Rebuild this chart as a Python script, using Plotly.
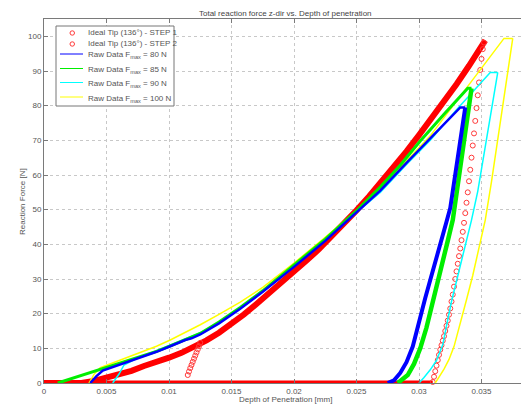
import plotly.graph_objects as go

# ---------------- data ----------------
step1_depth = [0.0000, 0.0030, 0.0040, 0.0050, 0.0060, 0.0070, 0.0080, 0.0090, 0.0100, 0.0110,
               0.0120, 0.0130, 0.0140, 0.0150, 0.0160, 0.0170, 0.0180, 0.0190, 0.0200, 0.0210,
               0.0220, 0.0230, 0.0240, 0.0250, 0.0260, 0.0270, 0.0280, 0.0290, 0.0300, 0.0310,
               0.0320, 0.0330, 0.0340, 0.0350, 0.0353]
step1_force = [0.0, 0.0, 0.6, 1.5, 2.4, 3.5, 4.9, 6.0, 7.3, 8.7,
               10.3, 12.3, 14.5, 17.0, 19.8, 22.8, 25.8, 28.8, 32.0, 35.3,
               38.6, 42.2, 46.0, 49.8, 53.8, 58.0, 62.3, 66.8, 71.5, 76.3,
               81.2, 86.2, 91.5, 97.0, 98.8]

step1_base_depth = [0.0000, 0.0311]
step1_base_force = [0.0, 0.0]

step2_depth = [0.0352, 0.0351, 0.0350, 0.0349, 0.0348, 0.0347, 0.0346, 0.0345, 0.0344, 0.0343,
               0.0342, 0.0341, 0.0340, 0.0339, 0.0338, 0.0337, 0.0336, 0.0335, 0.0334, 0.0333,
               0.0332, 0.0331, 0.0330, 0.0329, 0.0328, 0.0327, 0.0326, 0.0325, 0.0324, 0.0323,
               0.0322, 0.0321, 0.0320, 0.0319, 0.0318, 0.0317, 0.0316, 0.0315, 0.0314, 0.0313,
               0.0312, 0.0311]
step2_force = [98.2, 96.3, 93.5, 90.3, 86.7, 83.0, 79.3, 75.6, 72.0, 68.5,
               65.0, 61.5, 58.2, 55.0, 52.0, 49.0, 46.2, 43.6, 41.2, 38.8,
               36.6, 34.4, 32.2, 30.0, 27.8, 25.5, 23.5, 21.5, 19.7, 18.0,
               16.5, 15.0, 13.5, 12.2, 10.9, 9.6, 8.1, 6.6, 5.0, 3.4,
               1.8, 0.3]

step2_reload_depth = [0.0115, 0.0116, 0.0117, 0.0118, 0.0119, 0.0120, 0.0121, 0.0122, 0.0123, 0.0124, 0.0125]
step2_reload_force = [2.3, 3.3, 4.3, 5.2, 6.1, 7.0, 7.9, 8.8, 9.7, 10.6, 11.6]

f80_load_depth = [0.0037, 0.0042, 0.0047, 0.0055, 0.0065, 0.0077, 0.0090, 0.0101, 0.0113, 0.0118,
                  0.0125, 0.0140, 0.0157, 0.0175, 0.0200, 0.0225, 0.0251, 0.0269, 0.0290, 0.0309,
                  0.0333, 0.0337]
f80_load_force = [0.0, 2.0, 3.6, 4.6, 5.8, 7.3, 9.0, 10.6, 12.4, 12.9,
                  14.0, 17.2, 21.4, 26.3, 33.5, 41.0, 49.5, 55.5, 63.5, 70.5,
                  79.5, 79.5]
f80_unload_depth = [0.0337, 0.0334, 0.0331, 0.0328, 0.0325, 0.0322, 0.0318, 0.0314, 0.0309, 0.0305,
                    0.0300, 0.0295, 0.0290, 0.0285, 0.0280, 0.0275]
f80_unload_force = [79.5, 72.0, 64.0, 57.0, 50.5, 46.5, 41.0, 35.5, 29.7, 24.5,
                    17.5, 10.5, 6.0, 2.9, 0.8, 0.0]

f85_load_depth = [0.0011, 0.0030, 0.0047, 0.0060, 0.0077, 0.0090, 0.0101, 0.0113, 0.0125, 0.0140,
                  0.0157, 0.0175, 0.0200, 0.0225, 0.0251, 0.0269, 0.0285, 0.0301, 0.0320, 0.0339,
                  0.0342]
f85_load_force = [0.0, 2.2, 4.2, 5.6, 7.5, 9.1, 10.7, 12.5, 14.3, 17.6,
                  21.8, 26.6, 34.0, 41.5, 50.0, 56.5, 62.8, 69.8, 77.5, 85.0,
                  85.0]
f85_unload_depth = [0.0342, 0.0339, 0.0336, 0.0333, 0.0330, 0.0327, 0.0323, 0.0319, 0.0316, 0.0311,
                    0.0306, 0.0301, 0.0296, 0.0291, 0.0283]
f85_unload_force = [85.0, 77.4, 69.8, 62.2, 54.6, 47.0, 41.0, 35.0, 29.7, 23.0,
                    16.0, 10.0, 5.5, 2.3, 0.0]

f90_load_depth = [0.0055, 0.0060, 0.0064, 0.0077, 0.0090, 0.0101, 0.0113, 0.0125, 0.0140, 0.0157,
                  0.0175, 0.0200, 0.0225, 0.0251, 0.0269, 0.0290, 0.0309, 0.0330, 0.0357, 0.0363]
f90_load_force = [0.0, 2.6, 5.2, 7.6, 9.3, 10.9, 12.8, 14.5, 17.4, 21.6,
                  26.4, 33.8, 41.3, 49.5, 55.0, 63.0, 70.0, 78.8, 89.6, 89.6]
f90_unload_depth = [0.0363, 0.0359, 0.0355, 0.0351, 0.0347, 0.0342, 0.0338, 0.0334, 0.0330, 0.0326,
                    0.0322, 0.0319, 0.0314, 0.0309, 0.0304, 0.0300]
f90_unload_force = [89.6, 80.8, 72.3, 63.8, 55.3, 47.0, 41.0, 35.0, 29.5, 23.5,
                    16.5, 11.0, 6.5, 3.8, 1.6, 0.0]

f100_load_depth = [0.0036, 0.0040, 0.0045, 0.0060, 0.0077, 0.0090, 0.0101, 0.0113, 0.0125, 0.0140,
                   0.0157, 0.0175, 0.0200, 0.0225, 0.0251, 0.0269, 0.0290, 0.0309, 0.0337, 0.0368,
                   0.0375]
f100_load_force = [0.0, 2.5, 4.4, 6.4, 8.8, 10.6, 12.4, 14.5, 16.8, 19.8,
                   23.3, 27.6, 34.6, 42.0, 50.0, 56.3, 64.0, 71.3, 84.6, 99.4,
                   99.4]
f100_unload_depth = [0.0375, 0.0371, 0.0367, 0.0362, 0.0358, 0.0353, 0.0348, 0.0343, 0.0338, 0.0333,
                     0.0328, 0.0324, 0.0320, 0.0316, 0.0313]
f100_unload_force = [99.4, 89.6, 79.9, 67.8, 58.1, 47.0, 38.5, 31.0, 24.0, 17.0,
                     10.5, 6.8, 4.0, 1.7, 0.0]

x_tick_vals = [0, 0.005, 0.01, 0.015, 0.02, 0.025, 0.03, 0.035]
x_tick_text = ["0", "0.005", "0.01", "0.015", "0.02", "0.025", "0.03", "0.035"]
y_tick_vals = [0, 10, 20, 30, 40, 50, 60, 70, 80, 90, 100]

chart_title = "Total reaction force z-dir vs. Depth of penetration"
x_title = "Depth of Penetration [mm]"
y_title = "Reaction Force [N]"
legend_names = ["Ideal Tip (136°) - STEP 1", "Ideal Tip (136°) - STEP 2",
                "Raw Data F<sub>max</sub> = 80 N", "Raw Data F<sub>max</sub> = 85 N",
                "Raw Data F<sub>max</sub> = 90 N", "Raw Data F<sub>max</sub> = 100 N"]

RED = "#ff0000"
PINK = "#ff3a3a"
BLUE = "#0000ff"
GREEN = "#00ee00"
CYAN = "#00ffff"
YELLOW = "#ffff00"
legend_colors = [PINK, PINK, BLUE, GREEN, CYAN, YELLOW]

# ---------------- figure geometry ----------------
# The page body has an 8px margin, so the figure is made 8px smaller and
# every window-pixel position below is shifted by that offset.
OFF = 8
W, H = 529 - OFF, 404 - OFF
ML, MR, MT, MB = 44 - OFF, 0, 19 - OFF, 21
PW, PH = W - ML - MR, H - MT - MB


def px_x(px):          # window pixel -> paper fraction
    return (px - OFF - ML) / PW


def px_y(py):
    return (H - MB - (py - OFF)) / PH


fig = go.Figure()

# Ideal tip STEP 1 (dense markers -> solid red band)
fig.add_trace(go.Scatter(x=step1_depth, y=step1_force, mode="lines", name=legend_names[0],
                         line=dict(color=RED, width=6), showlegend=False, cliponaxis=False))
fig.add_trace(go.Scatter(x=step1_base_depth, y=step1_base_force, mode="lines", name=legend_names[0],
                         line=dict(color=RED, width=5), showlegend=False, cliponaxis=False))

# Ideal tip STEP 2
fig.add_trace(go.Scatter(x=step2_depth, y=step2_force, mode="markers", name=legend_names[1],
                         marker=dict(symbol="circle-open", size=5, color=PINK, line=dict(width=1)),
                         showlegend=False, cliponaxis=False))
fig.add_trace(go.Scatter(x=step2_reload_depth, y=step2_reload_force, mode="markers", name=legend_names[1],
                         marker=dict(symbol="circle-open", size=5, color=PINK, line=dict(width=1)),
                         showlegend=False))

# Raw data (drawn yellow -> cyan -> green -> blue)
series = [
    (legend_names[5], YELLOW, f100_load_depth, f100_load_force, f100_unload_depth, f100_unload_force, 1.5, 1.5),
    (legend_names[4], CYAN, f90_load_depth, f90_load_force, f90_unload_depth, f90_unload_force, 1.5, 1.5),
    (legend_names[3], GREEN, f85_load_depth, f85_load_force, f85_unload_depth, f85_unload_force, 3, 4.5),
    (legend_names[2], BLUE, f80_load_depth, f80_load_force, f80_unload_depth, f80_unload_force, 2.5, 4),
]
for name, col, ld, lf, ud, uf, lw, uw in series:
    fig.add_trace(go.Scatter(x=ld, y=lf, mode="lines", name=name, line=dict(color=col, width=lw),
                             showlegend=False))
    fig.add_trace(go.Scatter(x=ud, y=uf, mode="lines", name=name, line=dict(color=col, width=uw),
                             showlegend=False))

FONT = "Liberation Sans, Arial, sans-serif"
TXT = "#555555"

# ---------------- legend box drawn as layout decoration ----------------
shapes = [dict(type="rect", xref="paper", yref="paper",
               x0=px_x(56), x1=px_x(174), y0=px_y(106), y1=px_y(26),
               line=dict(color="#777777", width=1), fillcolor="white", layer="above")]
annotations = []
row_y = [33, 44, 54, 68.5, 82.5, 97]
for i, (name, col, ry) in enumerate(zip(legend_names, legend_colors, row_y)):
    if i < 2:
        shapes.append(dict(type="circle", xref="paper", yref="paper",
                           x0=px_x(70), x1=px_x(74.5), y0=px_y(ry + 2.2), y1=px_y(ry - 2.2),
                           line=dict(color=col, width=1), layer="above"))
        text_y = ry
    else:
        shapes.append(dict(type="line", xref="paper", yref="paper",
                           x0=px_x(60), x1=px_x(83), y0=px_y(ry), y1=px_y(ry),
                           line=dict(color=col, width=1), layer="above"))
        text_y = ry + 1.5
    annotations.append(dict(text=name, xref="paper", yref="paper", x=px_x(86), y=px_y(text_y),
                            xanchor="left", yanchor="middle", showarrow=False,
                            font=dict(family=FONT, size=8, color=TXT)))

# title and axis titles
annotations.append(dict(text=chart_title, xref="paper", yref="paper",
                        x=px_x(285), y=px_y(8), xanchor="center", yanchor="top",
                        borderpad=0, showarrow=False,
                        font=dict(family=FONT, size=8, color="#444444")))
annotations.append(dict(text=x_title, xref="paper", yref="paper",
                        x=px_x(285), y=px_y(399), xanchor="center", yanchor="middle",
                        showarrow=False, font=dict(family=FONT, size=8, color=TXT)))
annotations.append(dict(text=y_title, xref="paper", yref="paper",
                        x=px_x(22), y=px_y(202), xanchor="center", yanchor="middle",
                        textangle=-90, showarrow=False, font=dict(family=FONT, size=8, color=TXT)))

axis_common = dict(showline=True, linecolor="#7a7a7a", linewidth=1, mirror="ticks",
                   ticks="inside", ticklen=4, tickcolor="#7a7a7a", automargin=False,
                   showgrid=True, gridcolor="#c8c8c8", griddash="dot", gridwidth=1,
                   zeroline=False, tickfont=dict(family=FONT, size=8, color=TXT))

fig.update_layout(
    width=W, height=H,
    margin=dict(l=ML, r=MR, t=MT, b=MB, autoexpand=False),
    paper_bgcolor="white", plot_bgcolor="white",
    font=dict(family=FONT, size=8, color=TXT),
    xaxis=dict(range=[0, 0.0388], tickvals=x_tick_vals, ticktext=x_tick_text, **axis_common),
    yaxis=dict(range=[0, 105], tickvals=y_tick_vals, **axis_common),
    shapes=shapes,
    annotations=annotations,
    showlegend=False,
)

fig.write_html("out.html")
